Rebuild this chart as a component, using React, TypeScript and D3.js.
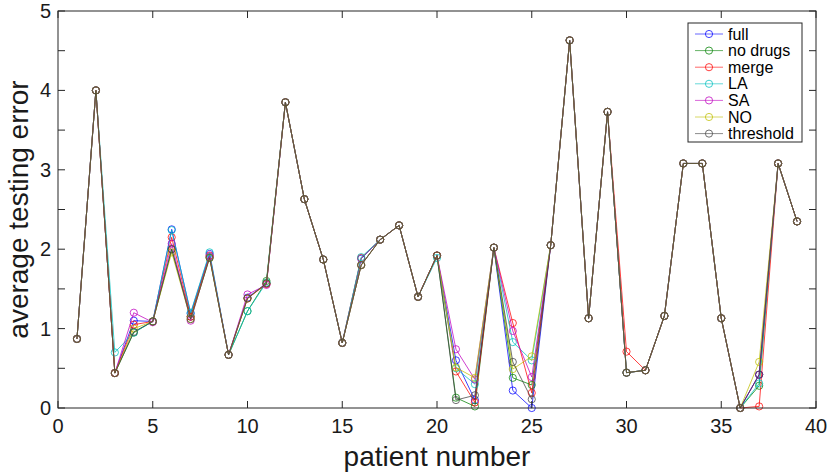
import React from "react";
import * as d3 from "d3";

const patients = d3.range(1, 40);
const seriesNames = ["full", "no drugs", "merge", "LA", "SA", "NO", "threshold"];
const seriesColors = ["#0000ff", "#008000", "#ff0000", "#00bfbf", "#bf00bf", "#bfbf00", "#404040"];

const full = [0.87, 4.0, 0.44, 1.10, 1.09, 2.25, 1.19, 1.94, 0.67, 1.39, 1.57, 3.85, 2.63, 1.87, 0.82, 1.88, 2.12, 2.30, 1.40, 1.92, 0.60, 0.10, 2.02, 0.22, 0.0, 2.05, 4.63, 1.13, 3.73, 0.445, 0.475, 1.16, 3.08, 3.08, 1.13, 0, 0.42, 3.08, 2.35];
const noDrugs = [0.87, 4.0, 0.44, 0.95, 1.09, 2.0, 1.15, 1.90, 0.67, 1.22, 1.60, 3.85, 2.63, 1.87, 0.82, 1.80, 2.12, 2.30, 1.40, 1.92, 0.13, 0.02, 2.02, 0.38, 0.29, 2.05, 4.63, 1.13, 3.73, 0.445, 0.475, 1.16, 3.08, 3.08, 1.13, 0, 0.28, 3.08, 2.35];
const merge = [0.87, 4.0, 0.44, 1.05, 1.09, 2.15, 1.15, 1.92, 0.67, 1.38, 1.56, 3.85, 2.63, 1.87, 0.82, 1.89, 2.12, 2.30, 1.40, 1.92, 0.46, 0.07, 2.02, 1.07, 0.19, 2.05, 4.63, 1.13, 3.73, 0.71, 0.475, 1.16, 3.08, 3.08, 1.13, 0, 0.02, 3.08, 2.35];
const la = [0.87, 4.0, 0.70, 0.95, 1.09, 2.24, 1.20, 1.96, 0.67, 1.22, 1.58, 3.85, 2.63, 1.87, 0.82, 1.90, 2.12, 2.30, 1.40, 1.89, 0.50, 0.30, 2.02, 0.83, 0.60, 2.05, 4.63, 1.13, 3.73, 0.445, 0.475, 1.16, 3.08, 3.08, 1.13, 0, 0.31, 3.08, 2.35];
const sa = [0.87, 4.0, 0.44, 1.20, 1.08, 2.07, 1.10, 1.91, 0.67, 1.43, 1.55, 3.85, 2.63, 1.87, 0.82, 1.80, 2.12, 2.30, 1.40, 1.92, 0.74, 0.36, 2.02, 0.97, 0.39, 2.05, 4.63, 1.13, 3.73, 0.445, 0.475, 1.16, 3.08, 3.08, 1.13, 0, 0.42, 3.08, 2.35];
const no = [0.87, 4.0, 0.44, 1.00, 1.09, 1.96, 1.12, 1.89, 0.67, 1.38, 1.57, 3.85, 2.63, 1.87, 0.82, 1.80, 2.12, 2.30, 1.40, 1.92, 0.51, 0.38, 2.02, 0.49, 0.65, 2.05, 4.63, 1.13, 3.73, 0.445, 0.475, 1.16, 3.08, 3.08, 1.13, 0, 0.58, 3.08, 2.35];
const threshold = [0.87, 4.0, 0.44, 0.96, 1.09, 2.0, 1.12, 1.89, 0.67, 1.38, 1.57, 3.85, 2.63, 1.87, 0.82, 1.80, 2.12, 2.30, 1.40, 1.92, 0.10, 0.16, 2.02, 0.58, 0.11, 2.05, 4.63, 1.13, 3.73, 0.445, 0.475, 1.16, 3.08, 3.08, 1.13, 0, 0.42, 3.08, 2.35];

const allSeries = [full, noDrugs, merge, la, sa, no, threshold];
const xTicks = [0, 5, 10, 15, 20, 25, 30, 35, 40];
const yTicks = [0, 1, 2, 3, 4, 5];
const yMinorTicks = [0.5, 1.5, 2.5, 3.5, 4.5];

const W = 830, H = 475;
const L = 58, R = 816, T = 11, B = 408;
const axisColor = "#262626";
const font = "'Liberation Sans', Arial, Helvetica, sans-serif";

export default function App() {
  const x = d3.scaleLinear().domain([0, 40]).range([L, R]);
  const y = d3.scaleLinear().domain([0, 5]).range([B, T]);
  const line = d3.line<number>().x((_, i) => x(patients[i])).y((d) => y(d));
  const tk = 7;
  const legX = 688, legY = 23, legW = 114, legH = 119, legStep = 16.6;

  return (
    <svg width={W} height={H} style={{ position: "absolute", left: 0, top: 0, background: "#fff" }}>
      <rect x={0} y={0} width={W} height={H} fill="#fff" />
      {allSeries.map((s, si) => (
        <g key={si} stroke={seriesColors[si]} fill="none" strokeOpacity={0.75} strokeWidth={1}>
          <path d={line(s) || ""} />
          {s.map((v, i) => (
            <circle key={i} cx={x(patients[i])} cy={y(v)} r={3.6} />
          ))}
        </g>
      ))}
      {/* axes box */}
      <rect x={L} y={T} width={R - L} height={B - T} fill="none" stroke={axisColor} strokeWidth={1} />
      {xTicks.map((t) => (
        <g key={"x" + t}>
          <line x1={x(t)} x2={x(t)} y1={B} y2={B - tk} stroke={axisColor} />
          <line x1={x(t)} x2={x(t)} y1={T} y2={T + tk} stroke={axisColor} />
          <text x={x(t)} y={B + 25} textAnchor="middle" fontSize={20} fontFamily={font} fill="#1a1a1a">{t}</text>
        </g>
      ))}
      {yTicks.concat(yMinorTicks).map((t) => (
        <g key={"y" + t}>
          <line x1={L} x2={L + tk} y1={y(t)} y2={y(t)} stroke={axisColor} />
          <line x1={R} x2={R - tk} y1={y(t)} y2={y(t)} stroke={axisColor} />
        </g>
      ))}
      {yTicks.map((t) => (
        <text key={"yl" + t} x={L - 7} y={y(t) + 7} textAnchor="end" fontSize={20} fontFamily={font} fill="#1a1a1a">{t}</text>
      ))}
      <text x={(L + R) / 2} y={466} textAnchor="middle" fontSize={28} fontFamily={font} fill="#1a1a1a">patient number</text>
      <text transform={`translate(28, ${(T + B) / 2}) rotate(-90)`} textAnchor="middle" fontSize={28} fontFamily={font} fill="#1a1a1a">average testing error</text>
      {/* legend */}
      <rect x={legX} y={legY} width={legW} height={legH} fill="#fff" stroke={axisColor} strokeWidth={1} />
      {seriesNames.map((n, i) => {
        const cy = legY + 11 + i * legStep;
        return (
          <g key={n}>
            <line x1={legX + 7} x2={legX + 35} y1={cy} y2={cy} stroke={seriesColors[i]} strokeOpacity={0.6} />
            <circle cx={legX + 21} cy={cy} r={3.6} fill="none" stroke={seriesColors[i]} strokeOpacity={0.75} />
            <text x={legX + 40} y={cy + 5.5} fontSize={16} fontFamily={font} fill="#000">{n}</text>
          </g>
        );
      })}
    </svg>
  );
}
